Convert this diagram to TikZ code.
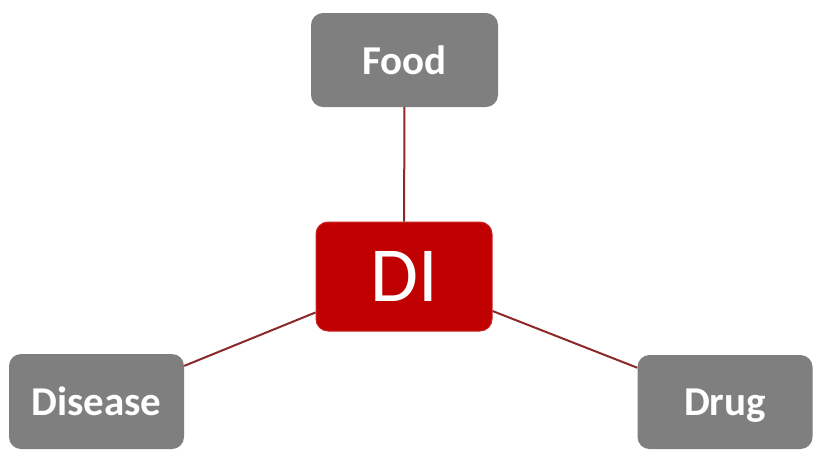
\documentclass[tikz,border=0pt]{standalone}
\usepackage{fontspec}
\setmainfont{Carlito}
\definecolor{boxgray}{RGB}{127,127,127}
\definecolor{direct}{RGB}{192,0,0}
\definecolor{linkred}{RGB}{140,40,40}
\begin{document}
\begin{tikzpicture}[x=1pt,y=-1pt,
  graybox/.style={fill=boxgray, draw=none, rounded corners=12pt, inner sep=0pt,
    text depth=0pt, text=white, font=\fontsize{41}{45}\selectfont\bfseries},
  redbox/.style={fill=direct, draw=direct!85!white, line width=1pt, rounded corners=12pt,
    inner sep=0pt, text depth=0pt, text=white, font=\fontsize{78}{84}\selectfont},
  link/.style={draw=linkred, line width=2pt}]
\useasboundingbox (0,0) rectangle (815,451);
\node[graybox, minimum width=187pt, minimum height=94pt] (food) at (404.5,60) {Food};
\node[redbox, minimum width=176pt, minimum height=109pt] (di) at (404,276.5) {DI};
\node[graybox, minimum width=175pt, minimum height=95pt] (disease) at (96.5,401.5) {Disease};
\node[graybox, minimum width=175pt, minimum height=94pt] (drug) at (725,402) {Drug};
\draw[link] (food) -- (di);
\draw[link] (di) -- (disease);
\draw[link] (di) -- (drug);
\end{tikzpicture}
\end{document}
